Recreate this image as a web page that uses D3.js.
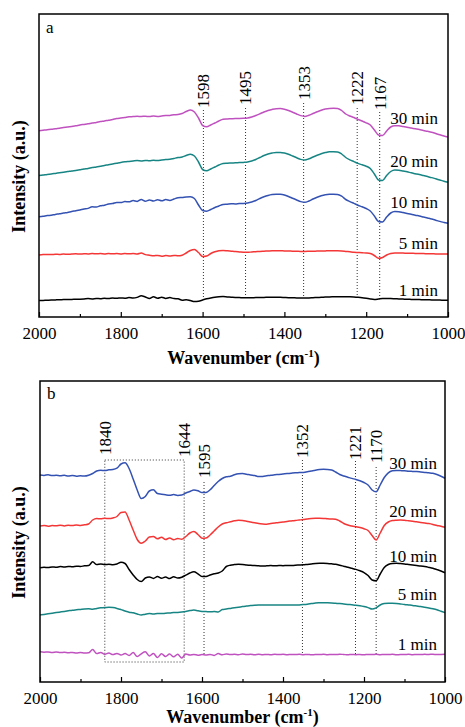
<!DOCTYPE html>
<html>
<head>
<meta charset="utf-8">
<script src="https://cdn.jsdelivr.net/npm/d3@7"></script>
<style>
  body { margin: 0; background: #fff; }
  svg { display: block; font-family: 'Liberation Serif', 'Times New Roman', serif; }
  .tick line { stroke: #000; stroke-width: 1.2; }
  .tick text { font-size: 17px; fill: #000; font-family: 'Liberation Serif', 'Times New Roman', serif; }
  .axis-title { font-size: 18px; font-weight: bold; }
  .dotted { stroke: #333; stroke-width: 1; stroke-dasharray: 1,2; fill: none; }
</style>
</head>
<body>
<svg width="465" height="727"></svg>
<script>
// wavenumber grid (cm-1) on which the spectra were read, every 10 cm-1
const wavenumbers = d3.range(2000, 999, -10);
const majorTicks = [2000, 1800, 1600, 1400, 1200, 1000];
const minorTicks = [1900, 1700, 1500, 1300, 1100];
const timeLabels = ['30 min', '20 min', '10 min', '5 min', '1 min'];

// panel a, intensity (a.u.)
const a30 = [189.3,189.8,190.3,190.7,191.3,191.8,192.4,193.0,193.6,194.2,
  195.0,195.6,196.2,197.0,197.6,198.4,199.0,199.8,200.5,201.4,
  202.0,202.6,203.2,203.4,203.7,203.5,203.8,203.4,203.9,203.6,
  204.0,204.4,204.6,205.2,205.5,206.5,208.5,210.0,208.0,202.0,
  194.5,193.2,195.0,197.0,199.0,200.7,201.0,201.2,201.4,201.5,
  201.7,202.0,203.0,204.5,206.2,208.0,209.5,210.6,211.3,211.4,
  210.8,209.5,207.8,206.0,204.4,203.6,204.8,206.5,208.2,209.8,
  211.0,211.6,211.7,211.6,209.5,206.0,204.0,202.5,200.5,199.0,
  197.2,195.0,190.0,185.0,184.5,189.0,193.0,194.3,194.2,193.5,
  192.8,192.0,191.2,190.4,189.5,188.7,187.8,186.5,185.2,184.0,
  183.0];
const a20 = [144.5,145.0,145.6,146.0,146.6,147.2,147.8,148.4,149.1,149.6,
  150.3,151.0,151.6,152.4,153.0,153.8,154.6,155.2,156.0,156.8,
  157.6,158.2,158.6,159.0,159.4,159.1,159.6,159.2,159.7,159.4,
  160.0,160.5,160.8,161.6,162.4,163.0,164.5,165.7,164.0,158.0,
  150.5,149.2,151.0,153.0,155.0,156.5,156.8,157.0,157.2,157.4,
  157.6,158.0,159.0,160.5,162.5,164.5,166.0,167.0,167.6,167.6,
  167.0,165.7,164.0,162.2,160.6,160.0,161.2,163.0,164.7,166.2,
  167.4,168.2,168.3,168.1,166.0,162.5,160.2,158.4,156.6,155.2,
  153.8,151.5,146.0,140.0,139.5,144.5,148.5,150.0,149.8,149.0,
  148.2,147.2,146.3,145.4,144.4,143.4,142.4,141.2,140.0,138.8,
  137.7];
const a10 = [103.2,103.7,104.4,104.8,105.6,106.2,107.0,107.6,108.5,109.2,
  110.0,111.0,111.6,113.2,113.0,114.2,114.8,116.0,116.4,117.6,
  117.4,118.4,118.2,119.4,118.6,120.5,118.8,120.0,119.0,120.2,
  119.2,120.4,119.6,121.0,122.2,122.5,123.0,123.2,121.5,115.0,
  109.5,108.8,110.5,112.5,114.0,115.5,115.8,116.2,116.1,116.5,
  116.6,117.0,118.0,119.5,121.5,123.2,124.5,125.4,125.8,125.7,
  125.0,123.5,121.7,120.0,118.4,117.7,119.0,121.0,122.8,124.2,
  125.2,125.7,125.8,125.6,123.8,120.5,118.4,116.6,114.8,113.2,
  111.5,109.0,104.0,98.5,98.0,103.0,107.0,108.4,108.2,107.4,
  106.6,105.8,104.8,104.0,103.0,102.0,101.0,99.8,98.6,97.6,
  96.7];
const a5 = [65.0,65.4,65.6,65.4,65.8,65.6,66.0,65.7,66.0,66.2,
  65.9,66.3,66.1,66.5,66.2,66.4,66.1,66.5,66.2,66.4,
  66.1,66.5,66.2,66.4,66.0,67.0,65.4,64.8,64.2,64.6,
  63.8,64.4,64.0,64.6,64.2,64.8,67.0,69.5,70.6,67.5,
  63.5,64.0,66.5,68.2,69.2,69.5,69.2,68.8,68.4,68.1,
  67.8,67.7,68.0,68.3,68.6,68.8,69.0,69.2,69.3,69.2,
  69.1,69.0,68.8,68.7,68.6,68.6,68.7,68.8,68.9,69.0,
  69.1,69.2,69.2,69.2,69.0,68.6,68.2,67.8,67.5,67.2,
  67.0,66.5,64.5,61.7,62.5,65.0,66.5,67.0,67.0,66.9,
  66.8,66.7,66.6,66.5,66.4,66.3,66.2,66.1,66.0,66.0,
  65.9];
const a1 = [19.4,19.6,19.8,20.0,20.1,20.2,20.4,20.5,20.6,20.7,
  20.8,21.0,21.4,21.1,21.5,21.3,21.7,21.5,22.0,21.7,
  22.1,21.8,22.4,22.0,22.6,24.2,23.0,21.6,23.2,21.8,
  22.8,21.6,22.4,21.4,21.2,19.8,20.2,19.4,18.4,18.8,
  20.0,21.2,22.1,22.8,23.2,23.4,23.1,22.8,22.5,22.4,
  22.2,22.2,22.3,22.4,22.5,22.6,22.7,22.8,22.8,22.7,
  22.5,22.3,22.2,22.1,22.0,22.0,22.1,22.3,22.5,22.7,
  22.9,23.1,23.2,23.3,23.3,23.3,23.2,23.0,22.7,22.3,
  21.7,21.0,20.6,21.0,21.5,21.6,21.5,21.3,21.1,20.9,
  20.7,20.6,20.5,20.4,20.3,20.2,20.1,20.0,19.9,19.8,
  19.7];

// panel b, intensity (a.u.)
const b30 = [225.0,224.6,225.2,224.4,224.8,224.2,224.7,224.0,224.5,223.8,
  224.2,224.0,224.8,226.5,229.0,229.8,229.4,230.2,230.5,231.8,
  236.0,237.2,231.5,221.0,210.0,201.5,203.5,209.0,210.2,206.5,
  205.8,205.2,204.8,205.4,204.6,205.0,207.0,208.5,210.0,209.2,
  207.4,207.6,210.2,214.5,218.5,221.5,223.2,223.8,225.2,226.2,
  226.5,225.8,225.0,224.4,223.4,223.6,224.2,224.8,225.2,225.6,
  226.0,226.4,226.8,227.2,227.4,227.6,228.2,229.0,229.8,230.4,
  230.7,230.6,230.0,228.0,225.5,224.0,222.8,221.6,220.5,219.2,
  217.5,215.0,210.0,208.2,215.0,222.5,227.2,229.2,229.6,229.4,
  229.2,228.8,228.6,228.4,228.0,227.6,227.2,226.7,225.5,223.8,
  221.7];
const b20 = [174.0,174.5,173.8,174.4,174.2,174.8,174.1,174.7,174.4,175.0,
  174.6,175.2,176.0,180.0,181.5,181.2,181.8,181.4,182.0,183.5,
  187.5,188.0,180.0,170.0,160.5,156.8,159.0,163.0,163.5,161.2,
  162.8,160.5,162.0,160.2,161.5,160.7,163.5,167.0,168.5,165.5,
  161.8,162.0,165.0,169.0,173.0,176.0,177.2,178.2,179.2,179.8,
  179.5,178.8,178.0,177.2,176.4,176.0,175.8,176.4,177.0,177.6,
  178.0,178.6,179.1,179.6,180.0,180.4,181.0,181.4,181.7,181.8,
  181.6,181.2,181.0,180.7,179.0,176.5,175.0,174.0,173.2,172.4,
  171.2,169.5,164.5,160.0,167.0,174.5,178.0,179.4,179.8,180.0,
  179.7,179.2,178.7,178.2,177.6,177.0,176.4,175.6,174.6,173.8,
  172.7];
const b10 = [132.3,132.8,132.4,133.1,132.7,133.4,133.0,133.6,133.2,133.8,
  133.5,134.2,134.4,138.2,135.4,136.0,135.4,135.8,135.2,136.0,
  137.7,136.5,130.5,125.0,120.5,118.5,122.0,123.0,121.6,123.4,
  121.8,123.0,121.4,123.2,122.0,122.8,124.8,127.0,128.2,126.2,
  123.5,123.6,125.0,126.2,127.0,129.0,133.5,134.8,135.4,135.8,
  135.6,135.1,134.7,134.4,134.2,134.0,134.2,134.4,134.2,134.5,
  134.3,134.6,134.4,134.8,135.0,135.2,135.6,136.0,136.4,136.7,
  136.8,136.6,136.2,135.7,134.8,133.8,132.8,131.7,130.6,129.2,
  127.4,124.5,120.0,119.2,126.0,132.5,135.5,136.6,136.7,136.4,
  136.0,135.5,135.0,134.5,134.0,133.4,132.6,131.7,130.4,129.0,
  127.3];
const b5 = [85.0,85.6,86.2,86.8,87.4,88.0,88.6,89.2,89.8,90.2,
  90.6,91.0,91.2,90.8,91.6,92.2,92.4,92.8,92.4,91.6,
  90.4,89.0,87.8,87.2,86.0,85.0,85.8,86.4,86.0,86.6,
  86.4,86.8,87.0,87.4,87.6,88.0,88.6,89.4,90.0,89.2,
  88.6,88.4,88.2,88.4,88.0,90.5,91.0,91.6,92.2,92.8,
  93.4,94.0,94.4,94.8,95.0,95.1,95.0,94.9,95.0,94.9,
  95.0,94.9,95.0,95.0,95.1,95.4,95.8,96.4,97.0,97.2,
  97.3,97.2,97.0,96.7,96.4,96.0,95.6,95.2,94.8,94.2,
  93.4,92.4,91.0,92.2,95.0,96.4,96.8,96.7,96.4,96.0,
  95.6,95.1,94.6,94.0,93.4,92.7,92.0,91.2,90.2,88.8,
  87.3];
const b1 = [48.2,47.8,48.1,47.6,48.0,47.4,47.8,47.2,47.6,47.0,
  47.4,47.0,47.2,50.5,46.4,47.6,45.6,47.0,45.4,46.6,
  45.0,46.4,44.6,47.5,43.4,46.2,48.2,44.0,46.5,42.5,
  46.2,43.6,46.0,43.2,45.8,42.0,46.0,45.0,45.6,44.8,
  45.4,45.0,45.6,44.6,46.4,45.2,46.0,45.4,45.8,45.2,
  46.0,45.4,45.8,45.2,45.7,45.3,45.6,45.2,45.8,45.4,
  45.7,45.2,45.6,45.4,45.8,45.3,45.6,45.2,45.5,45.4,
  45.7,45.3,45.6,45.4,45.8,45.5,45.2,45.6,45.3,45.5,
  45.2,45.6,45.4,45.7,45.3,45.6,45.4,45.7,45.2,45.5,
  45.4,45.7,45.3,45.6,45.4,45.7,45.5,45.8,45.4,45.6,
  45.7];

// marked bands
const peaksA = [1598, 1495, 1353, 1222, 1167];
const peaksB = [1840, 1644, 1595, 1352, 1221, 1170];
const boxBandB = [1840, 1644];

const svg = d3.select('svg');

const colorsA = ['#c052c0', '#178583', '#3452b2', '#f43636', '#000000'];
const colorsB = ['#3452b2', '#f43636', '#000000', '#178583', '#c052c0'];

const panels = [
  {
    letter: 'a', box: { left: 39, right: 448, top: 14, bottom: 317 }, domain: [3, 306],
    series: [a30, a20, a10, a5, a1], colors: colorsA, peaks: peaksA,
    peakLabelY: [108, 105, 100, 105, 110], lineTopY: [110, 108, 103, 108, 112],
    timeLabelY: [124, 167, 208, 249, 295.5], timeLabelX: 438,
    letterPos: [46, 33], titleY: 364
  },
  {
    letter: 'b', box: { left: 40, right: 445, top: 381, bottom: 682 }, domain: [18, 319],
    series: [b30, b20, b10, b5, b1], colors: colorsB, peaks: peaksB,
    peakLabelY: [455, 457, 478, 458, 460, 463], lineTopY: [460, 460, 482, 460, 461, 467],
    timeLabelY: [469, 517, 561.5, 600, 650], timeLabelX: 437,
    letterPos: [47, 399], titleY: 723, boxBand: boxBandB, boxY: [460, 662]
  }
];

// value of a spectrum at a band position, between two grid points
const valueAt = (values, w) => {
  const t = (2000 - w) / 10;
  const i = Math.floor(t);
  const f = t - i;
  return values[i] + (values[Math.min(i + 1, values.length - 1)] - values[i]) * f;
};

const render = p => {
  const { box } = p;
  const x = d3.scaleLinear().domain([2000, 1000]).range([box.left, box.right]);
  const y = d3.scaleLinear().domain(p.domain).range([box.bottom, box.top]);
  const g = svg.append('g');

  const bottomSeries = p.series[p.series.length - 1];

  // dotted marker lines, down to the 1 min spectrum
  p.peaks.forEach((w, i) => {
    if (p.boxBand && p.boxBand.includes(w)) return;
    g.append('line').attr('class', 'dotted')
      .attr('x1', x(w)).attr('x2', x(w))
      .attr('y1', p.lineTopY[i])
      .attr('y2', y(valueAt(bottomSeries, w)));
  });
  if (p.boxBand) {
    g.append('rect').attr('class', 'dotted')
      .attr('x', x(p.boxBand[0]))
      .attr('y', p.boxY[0])
      .attr('width', x(p.boxBand[1]) - x(p.boxBand[0]))
      .attr('height', p.boxY[1] - p.boxY[0]);
  }

  // peak labels
  p.peaks.forEach((w, i) => {
    g.append('text')
      .attr('transform', `translate(${x(w)},${p.peakLabelY[i]}) rotate(-90)`)
      .attr('dy', '0.35em')
      .attr('font-size', 17)
      .text(w);
  });

  // spectra
  const line = d3.line()
    .x((d, i) => x(wavenumbers[i]))
    .y(d => y(d))
    .curve(d3.curveMonotoneX);

  p.series.forEach((values, i) => {
    g.append('path')
      .attr('d', line(values))
      .attr('fill', 'none')
      .attr('stroke', p.colors[i])
      .attr('stroke-width', 1.5)
      .attr('stroke-linejoin', 'round');
    g.append('text')
      .attr('x', p.timeLabelX)
      .attr('y', p.timeLabelY[i])
      .attr('text-anchor', 'end')
      .attr('font-size', 17)
      .text(timeLabels[i]);
  });

  // axes
  const xAxis = d3.axisBottom(x)
    .tickValues(majorTicks)
    .tickSize(-5)
    .tickPadding(10)
    .tickFormat(d3.format('d'));
  const xAxisG = g.append('g')
    .attr('transform', `translate(0,${box.bottom})`)
    .call(xAxis);
  xAxisG.select('.domain').remove();

  const minorG = g.append('g')
    .attr('transform', `translate(0,${box.bottom})`)
    .call(d3.axisBottom(x).tickValues(minorTicks).tickSize(-3).tickFormat(''));
  minorG.select('.domain').remove();

  g.append('rect')
    .attr('x', box.left).attr('y', box.top)
    .attr('width', box.right - box.left)
    .attr('height', box.bottom - box.top)
    .attr('fill', 'none')
    .attr('stroke', '#000')
    .attr('stroke-width', 1.5);

  g.append('text')
    .attr('x', p.letterPos[0]).attr('y', p.letterPos[1])
    .attr('font-size', 17)
    .text(p.letter);

  const xt = g.append('text')
    .attr('class', 'axis-title')
    .attr('x', (box.left + box.right) / 2)
    .attr('y', p.titleY)
    .attr('text-anchor', 'middle');
  xt.append('tspan').text('Wavenumber (cm');
  xt.append('tspan').attr('dy', -7).attr('font-size', 11).text('-1');
  xt.append('tspan').attr('dy', 7).text(')');

  g.append('text')
    .attr('class', 'axis-title')
    .attr('transform', `translate(25,${(box.top + box.bottom) / 2 + 11}) rotate(-90)`)
    .attr('text-anchor', 'middle')
    .text('Intensity (a.u.)');
};

panels.forEach(render);
</script>
</body>
</html>
